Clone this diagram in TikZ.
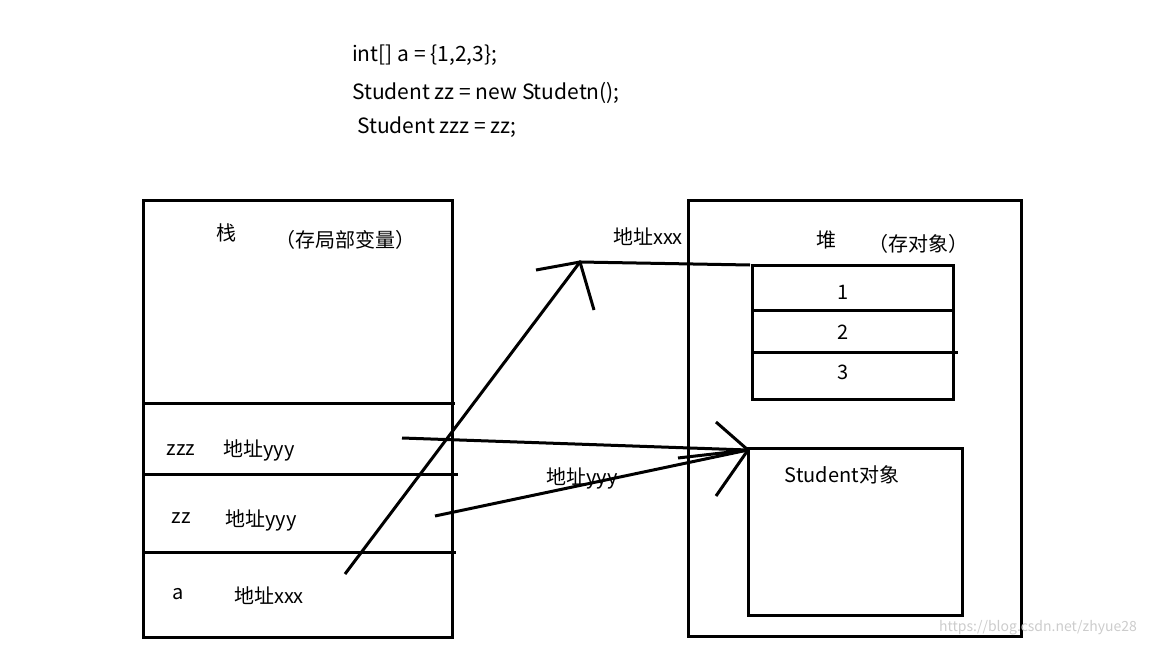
\documentclass[tikz,border=0pt]{standalone}
\usepackage{fontspec}
\setmainfont{Noto Sans CJK SC}
\begin{document}
\begin{tikzpicture}[x=1pt,y=-1pt,
  box/.style={draw, line width=3pt},
  ln/.style={line width=3pt},
  txt/.style={inner sep=0pt, font=\fontsize{20}{24}\selectfont},
  code/.style={inner sep=0pt, anchor=west, font=\fontsize{21}{25}\selectfont}]
\useasboundingbox (0,0) rectangle (1152,648);
% code
\node[code] (c1) at (352,55) {int[] a = \{1,2,3\};};
\node[code] (c2) at (352,93) {Student zz = new Studetn();};
\node[code] (c3) at (357,127) {Student zzz = zz;};
% stack
\draw[box] (143,200) rectangle (452,637);
\draw[ln] (143,403) -- (455,403);
\draw[ln] (143,474) -- (458,474);
\draw[ln] (143,552) -- (456,552);
\node[txt] (zhan) at (226,233) {栈};
\node[txt] (zhanl) at (345,240) {（存局部变量）};
\node[txt] (v1) at (181,450) {zzz};
\node[txt] (a1) at (259,450) {地址yyy};
\node[txt] (v2) at (181,518) {zz};
\node[txt] (a2) at (261,520) {地址yyy};
\node[txt] (v3) at (178,594) {a};
\node[txt] (a3) at (269,596) {地址xxx};
% heap
\draw[box] (688,200) rectangle (1021,636);
\node[txt] (dui) at (826,240) {堆};
\node[txt] (duil) at (918,244) {（存对象）};
\draw[box] (752,265) rectangle (953,399);
\draw[ln] (752,310) -- (953,310);
\draw[ln] (752,352) -- (958,352);
\node[txt] (n1) at (843,292) {1};
\node[txt] (n2) at (843,332) {2};
\node[txt] (n3) at (843,372) {3};
\draw[box] (748,448) rectangle (962,615);
\node[txt] (stu) at (842,475) {Student对象};
% references
\coordinate (ta) at (580,262);
\coordinate (tb) at (748,450);
\draw[ln] (345,574) -- (ta) -- (750,265);
\draw[ln] (536,270) -- (ta) -- (594,310);
\node[txt] (lx) at (648,237) {地址xxx};
\draw[ln] (402,438) -- (tb);
\draw[ln] (435,516) -- (tb);
\draw[ln] (678,458) -- (tb);
\draw[ln] (716,422) -- (tb) -- (716,496);
\node[txt] (ly) at (582,478) {地址yyy};
\node[inner sep=0pt, text=black!20, font=\fontsize{14}{16}\selectfont] (wm) at (1038,628) {https://blog.csdn.net/zhyue28};
\end{tikzpicture}
\end{document}
